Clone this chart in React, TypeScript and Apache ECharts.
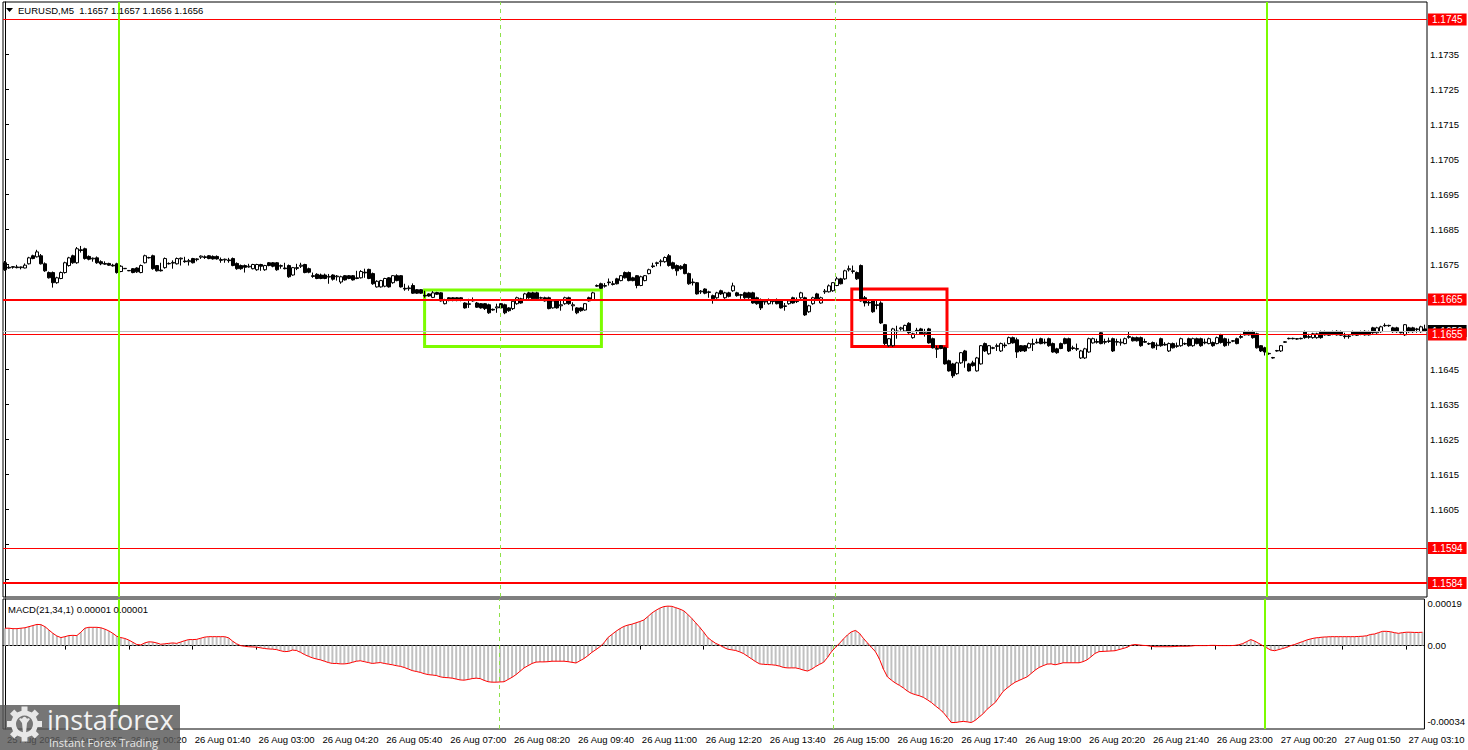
import { useEffect, useRef } from "react";
import * as echarts from "echarts";

const FONT = "'Liberation Sans', Arial, sans-serif";

// M5 candles, values are pips above 1.1600 (open / close / low / high)
const opens = [
  75.5, 74.2, 74.2, 74.3, 74.1, 74.0, 75.2, 77.5, 77.2, 77.5,
  75.2, 72.7, 72.7, 69.8, 71.0, 72.7, 74.7, 77.5, 75.5, 79.2,
  79.5, 77.3, 76.6, 76.9, 75.8, 75.3, 75.3, 74.8, 75.2, 73.0,
  73.8, 73.3, 73.8, 74.0, 72.7, 75.5, 77.0, 77.5, 74.7, 73.4,
  74.1, 75.3, 75.4, 75.2, 76.6, 76.0, 75.8, 76.7, 76.4, 77.1,
  77.2, 77.5, 77.3, 77.3, 76.4, 76.3, 76.3, 76.7, 75.3, 74.7,
  74.7, 74.3, 73.8, 73.5, 75.0, 73.5, 75.5, 75.5, 75.5, 74.5,
  74.0, 74.7, 72.0, 74.1, 74.5, 75.0, 73.8, 71.8, 72.2, 72.0,
  72.0, 71.4, 72.0, 71.5, 70.0, 71.8, 71.8, 71.8, 71.2, 71.2,
  72.8, 73.6, 72.4, 68.6, 68.6, 68.8, 71.2, 69.8, 71.8, 71.8,
  68.2, 68.1, 69.0, 67.8, 67.8, 66.2, 66.6, 65.6, 67.0, 66.9,
  63.8, 65.5, 65.5, 65.5, 65.5, 64.0, 63.6, 64.8, 64.0, 63.8,
  63.8, 63.5, 62.2, 62.6, 63.8, 63.5, 62.6, 62.4, 63.8, 65.2,
  65.0, 66.9, 66.9, 66.9, 65.5, 65.5, 65.5, 62.6, 64.6, 63.2,
  63.8, 65.5, 63.2, 62.6, 62.6, 62.0, 65.5, 65.0, 68.8, 69.5,
  68.8, 70.0, 69.5, 70.9, 70.4, 72.7, 72.7, 71.2, 71.8, 69.0,
  70.4, 72.4, 74.6, 75.3, 75.8, 75.8, 77.5, 75.5, 74.7, 74.5,
  75.0, 72.4, 70.0, 69.8, 67.2, 68.0, 67.0, 66.1, 65.5, 67.5,
  65.5, 66.9, 67.5, 66.9, 66.2, 66.9, 66.9, 66.9, 65.5, 65.0,
  64.3, 63.8, 64.4, 65.0, 64.6, 63.0, 63.8, 65.5, 64.4, 65.5,
  65.5, 61.5, 63.8, 66.6, 64.0, 67.2, 67.2, 67.5, 69.0, 70.9,
  70.9, 73.5, 73.0, 72.7, 74.7, 65.5, 64.2, 64.6, 63.5, 64.0,
  57.8, 51.8, 51.8, 56.0, 56.6, 56.0, 58.2, 54.1, 56.2, 56.6,
  55.2, 56.6, 53.8, 51.0, 51.8, 51.2, 47.5, 46.6, 43.8, 46.9,
  50.3, 46.6, 46.9, 44.6, 46.6, 52.4, 49.5, 51.2, 51.6, 50.3,
  52.0, 52.4, 54.1, 53.5, 51.8, 51.8, 51.2, 52.2, 52.8, 53.8,
  52.8, 53.8, 52.4, 50.9, 52.4, 53.8, 53.8, 51.2, 50.8, 48.3,
  48.3, 50.0, 52.6, 53.0, 55.5, 53.0, 53.0, 53.8, 52.8, 52.6,
  52.4, 54.4, 54.1, 54.1, 54.1, 53.0, 52.4, 52.7, 51.8, 53.8,
  52.2, 50.3, 52.4, 51.6, 51.8, 52.4, 53.8, 51.8, 53.8, 53.8,
  52.8, 52.4, 52.7, 52.4, 54.9, 53.8, 52.8, 53.2, 53.8, 54.4,
  55.8, 55.8, 55.8, 55.2, 51.8, 51.2, 49.6, 48.4, 50.4, 50.3,
  52.9, 53.9, 53.9, 53.8, 53.9, 55.8, 54.4, 54.1, 54.1, 55.8,
  55.8, 55.7, 55.8, 55.9, 55.8, 54.6, 54.4, 55.8, 55.7, 55.8,
  55.9, 55.8, 56.9, 55.5, 55.8, 57.6, 57.6, 56.9, 56.9, 55.6,
  54.9, 56.9, 56.9, 56.4, 55.8, 56.6,
];
const closes = [
  73.5, 74.0, 74.4, 74.1, 74.3, 74.8, 76.9, 76.7, 78.6, 75.2,
  73.2, 71.2, 69.8, 71.2, 72.7, 75.5, 76.9, 75.5, 79.5, 79.0,
  76.7, 76.5, 76.8, 75.5, 75.2, 75.1, 74.8, 74.6, 72.7, 74.5,
  73.9, 73.2, 72.7, 72.9, 74.7, 77.5, 76.9, 73.8, 73.2, 73.2,
  76.7, 75.2, 75.6, 76.7, 76.8, 75.8, 76.1, 75.5, 76.6, 77.4,
  77.0, 76.7, 76.6, 76.6, 76.2, 76.5, 76.1, 74.7, 73.8, 73.8,
  74.2, 74.5, 75.0, 75.0, 74.5, 74.7, 74.7, 74.5, 73.5, 74.7,
  73.8, 71.5, 74.1, 73.9, 74.8, 72.7, 72.8, 71.6, 71.0, 71.0,
  71.0, 71.6, 70.8, 71.7, 71.5, 70.6, 71.0, 70.6, 71.0, 73.0,
  72.6, 71.0, 69.5, 70.2, 70.4, 71.0, 68.6, 71.8, 70.4, 68.6,
  68.0, 68.3, 66.8, 66.8, 66.8, 66.0, 66.0, 66.9, 66.5, 64.6,
  65.0, 64.7, 64.7, 64.7, 64.8, 62.6, 63.8, 64.6, 62.8, 62.6,
  62.4, 61.2, 62.0, 62.9, 62.6, 61.2, 61.8, 64.5, 65.5, 64.0,
  66.6, 65.5, 65.2, 65.2, 65.4, 64.6, 62.4, 64.6, 62.6, 63.5,
  65.5, 63.8, 63.5, 61.2, 61.8, 63.8, 64.6, 66.9, 69.0, 68.2,
  69.0, 69.8, 69.3, 69.5, 71.8, 71.2, 70.4, 70.4, 69.0, 71.5,
  71.8, 73.5, 74.4, 75.5, 76.0, 77.0, 74.7, 73.9, 73.2, 73.8,
  72.4, 69.5, 69.8, 66.6, 67.4, 66.8, 67.2, 65.2, 66.9, 66.6,
  66.9, 65.9, 68.9, 66.1, 66.4, 65.5, 65.5, 64.0, 63.8, 62.6,
  64.5, 65.0, 64.6, 63.8, 62.6, 63.2, 64.6, 64.0, 64.6, 66.9,
  60.6, 63.2, 65.5, 65.2, 65.5, 67.4, 68.9, 69.8, 70.9, 69.5,
  73.2, 73.8, 73.2, 70.9, 64.6, 64.0, 64.0, 61.5, 63.3, 58.3,
  52.4, 53.8, 56.6, 55.8, 56.9, 57.6, 55.5, 55.2, 56.0, 55.2,
  55.5, 52.6, 51.2, 50.8, 51.0, 46.6, 44.6, 43.2, 46.9, 49.8,
  47.5, 44.6, 46.1, 48.3, 51.8, 50.3, 51.8, 51.1, 51.8, 52.4,
  51.8, 54.1, 52.6, 50.0, 50.3, 50.3, 52.4, 52.4, 52.6, 52.4,
  52.6, 51.8, 50.0, 49.8, 51.0, 52.4, 50.3, 51.0, 51.0, 50.3,
  50.9, 53.8, 53.8, 52.8, 52.4, 52.8, 53.2, 50.3, 53.0, 52.8,
  53.8, 54.2, 53.2, 53.2, 51.8, 52.8, 52.3, 51.2, 52.0, 51.8,
  52.0, 52.4, 51.2, 51.8, 53.8, 52.3, 51.8, 53.8, 52.4, 51.8,
  52.6, 53.8, 51.8, 54.1, 52.7, 51.8, 52.6, 53.1, 52.4, 54.2,
  54.9, 54.9, 54.1, 51.2, 50.3, 50.0, 49.5, 48.3, 50.3, 51.8,
  52.8, 53.8, 53.8, 53.7, 53.8, 54.1, 54.2, 55.2, 55.2, 54.1,
  54.9, 54.8, 55.0, 54.9, 54.8, 54.4, 54.6, 54.9, 54.8, 55.0,
  54.9, 54.9, 55.5, 56.9, 57.2, 57.5, 57.5, 55.8, 55.8, 55.5,
  57.8, 55.8, 55.8, 56.6, 57.2, 56.0,
];
const lows = [
  73.2, 73.8, 73.8, 73.9, 73.6, 73.9, 75.0, 76.5, 77.0, 75.0,
  72.9, 71.0, 68.4, 69.5, 70.8, 72.4, 74.4, 75.2, 75.2, 78.4,
  76.4, 76.2, 75.8, 75.2, 74.8, 74.9, 74.6, 74.4, 72.4, 72.8,
  73.7, 73.1, 72.5, 72.6, 72.5, 75.3, 76.7, 73.5, 73.0, 73.0,
  73.8, 75.0, 73.8, 75.0, 74.7, 75.5, 74.7, 75.3, 75.9, 76.6,
  76.6, 76.5, 76.4, 76.4, 75.5, 75.5, 75.5, 74.5, 73.5, 73.5,
  72.7, 74.1, 73.6, 73.2, 73.2, 73.2, 74.5, 74.2, 73.2, 73.8,
  73.6, 71.2, 71.8, 73.4, 74.0, 72.5, 72.5, 71.2, 70.8, 70.8,
  70.8, 69.5, 70.4, 70.4, 69.5, 70.4, 70.8, 70.4, 70.8, 71.0,
  71.2, 70.8, 69.2, 68.4, 68.4, 68.5, 68.4, 69.5, 70.2, 68.4,
  67.5, 67.5, 66.6, 66.6, 66.6, 65.5, 65.8, 65.4, 66.3, 64.4,
  63.6, 64.5, 64.5, 64.5, 64.5, 62.4, 62.6, 64.4, 62.6, 62.4,
  62.0, 60.9, 61.8, 61.2, 62.4, 60.8, 61.5, 62.0, 63.5, 63.8,
  64.8, 65.2, 65.0, 65.0, 65.2, 64.4, 62.2, 62.4, 62.4, 61.8,
  63.5, 63.5, 61.8, 60.8, 61.5, 61.8, 64.4, 64.8, 68.6, 68.0,
  68.4, 69.0, 69.0, 69.3, 70.2, 71.0, 70.2, 70.2, 68.2, 68.8,
  70.2, 72.2, 74.0, 74.5, 74.5, 75.5, 74.4, 73.6, 71.8, 73.5,
  72.2, 69.2, 69.0, 66.4, 66.6, 66.5, 65.5, 63.8, 65.2, 66.3,
  65.2, 65.6, 67.2, 65.8, 65.2, 65.2, 65.2, 63.8, 63.5, 62.0,
  63.5, 63.5, 63.6, 63.6, 62.4, 61.8, 63.5, 63.8, 64.0, 65.2,
  60.3, 61.2, 63.5, 65.0, 63.8, 66.6, 67.0, 67.2, 68.8, 69.3,
  70.6, 73.0, 72.4, 70.6, 64.4, 63.0, 63.2, 61.2, 62.2, 58.0,
  52.0, 51.5, 51.5, 53.8, 56.1, 55.8, 55.2, 53.8, 55.2, 55.0,
  54.4, 52.4, 51.0, 48.3, 50.8, 46.4, 44.4, 42.6, 43.5, 46.6,
  45.5, 44.4, 45.8, 44.4, 46.4, 50.0, 49.2, 50.8, 50.3, 50.0,
  51.2, 52.2, 52.4, 48.3, 50.0, 50.0, 51.0, 50.3, 52.4, 52.2,
  52.2, 51.5, 49.8, 49.5, 50.8, 52.2, 50.0, 50.6, 50.3, 48.0,
  48.0, 49.8, 52.4, 52.4, 52.2, 52.2, 52.6, 50.0, 51.8, 51.8,
  52.2, 53.8, 53.0, 53.0, 51.5, 52.6, 52.0, 51.0, 50.6, 51.5,
  51.8, 50.0, 51.0, 51.2, 51.5, 52.0, 51.5, 51.5, 52.2, 51.5,
  52.2, 52.2, 51.5, 52.2, 52.4, 51.5, 51.8, 52.8, 52.2, 53.8,
  54.7, 54.7, 53.8, 51.0, 50.0, 49.0, 49.2, 48.1, 50.1, 50.0,
  52.6, 53.6, 53.6, 53.5, 53.6, 53.8, 53.8, 53.8, 53.8, 53.8,
  54.7, 54.6, 54.8, 54.7, 54.6, 53.8, 53.8, 54.7, 54.6, 54.8,
  54.7, 54.7, 55.2, 55.2, 55.5, 57.2, 57.2, 55.5, 55.5, 55.3,
  54.6, 55.5, 55.5, 55.5, 55.5, 55.9,
];
const highs = [
  76.0, 74.8, 74.5, 74.9, 74.4, 75.3, 77.2, 77.8, 79.2, 78.0,
  75.6, 73.0, 73.0, 71.5, 73.0, 75.8, 77.2, 77.8, 80.0, 80.3,
  79.8, 77.6, 77.0, 77.3, 76.2, 75.9, 75.5, 75.2, 75.5, 74.8,
  74.0, 73.4, 74.0, 74.2, 75.0, 77.8, 77.2, 77.8, 74.8, 75.5,
  77.0, 75.6, 76.2, 77.0, 77.0, 77.2, 76.6, 76.9, 76.8, 77.6,
  77.6, 77.7, 77.6, 77.6, 77.0, 76.7, 76.9, 77.0, 75.6, 75.0,
  75.0, 75.2, 75.2, 75.2, 75.2, 74.9, 75.7, 75.7, 75.7, 75.0,
  75.5, 75.0, 74.3, 75.2, 75.5, 75.2, 74.1, 72.7, 72.5, 72.4,
  72.4, 72.3, 72.2, 72.0, 71.8, 72.0, 72.0, 72.0, 73.2, 73.4,
  73.8, 73.8, 72.7, 70.5, 70.6, 71.2, 71.4, 72.0, 72.2, 72.0,
  69.5, 69.0, 69.6, 68.0, 68.0, 67.5, 66.8, 67.4, 67.2, 67.1,
  65.2, 65.7, 65.7, 65.7, 65.7, 64.2, 65.2, 65.6, 64.3, 64.0,
  64.0, 63.8, 62.4, 63.8, 64.0, 63.8, 62.8, 64.8, 65.8, 65.5,
  66.9, 67.2, 67.2, 67.2, 65.8, 65.8, 65.8, 64.9, 64.9, 64.6,
  65.8, 65.8, 64.2, 62.8, 62.8, 64.0, 65.8, 67.2, 69.3, 69.8,
  69.7, 71.0, 70.3, 71.2, 72.0, 73.0, 73.0, 71.5, 72.0, 71.8,
  72.0, 73.8, 75.5, 75.8, 76.5, 77.3, 78.0, 75.8, 75.0, 74.8,
  75.3, 72.7, 71.0, 70.0, 67.7, 68.2, 67.5, 66.4, 67.2, 67.8,
  67.2, 67.2, 69.8, 67.2, 66.6, 67.2, 67.2, 67.2, 65.8, 65.3,
  65.0, 65.3, 65.0, 65.3, 64.9, 64.0, 64.9, 65.8, 65.6, 67.2,
  65.8, 63.5, 65.8, 66.9, 65.8, 68.0, 69.3, 70.0, 71.5, 71.2,
  73.5, 74.7, 74.7, 73.0, 75.0, 66.0, 64.8, 64.8, 65.0, 64.5,
  58.0, 54.0, 56.9, 57.5, 57.2, 57.8, 58.5, 55.5, 56.9, 56.9,
  56.6, 56.9, 54.1, 51.8, 52.0, 51.5, 47.8, 46.9, 47.2, 50.0,
  50.6, 46.9, 47.5, 48.6, 52.0, 52.7, 52.0, 51.5, 52.4, 52.7,
  52.7, 54.4, 54.4, 54.1, 52.0, 52.0, 52.7, 53.8, 53.8, 54.1,
  53.8, 54.1, 52.7, 51.2, 52.7, 54.1, 54.1, 51.8, 52.4, 50.6,
  51.2, 54.1, 54.1, 53.8, 55.8, 53.8, 54.1, 54.1, 53.8, 53.8,
  54.1, 55.8, 54.4, 54.4, 54.4, 53.8, 52.7, 53.0, 52.7, 54.1,
  52.8, 52.7, 52.7, 52.7, 54.1, 52.7, 54.1, 54.1, 54.1, 54.1,
  53.8, 54.1, 53.0, 54.4, 55.2, 54.1, 53.8, 53.4, 54.1, 55.2,
  56.1, 56.1, 56.1, 55.5, 52.0, 51.5, 49.8, 48.6, 50.6, 52.0,
  53.1, 54.1, 54.1, 54.0, 54.1, 56.1, 55.2, 55.5, 55.5, 56.1,
  56.1, 56.0, 56.1, 56.2, 56.1, 55.5, 55.0, 56.1, 56.0, 56.1,
  56.2, 56.1, 57.2, 57.2, 57.5, 58.2, 57.8, 57.2, 57.2, 55.8,
  58.0, 57.2, 57.2, 56.9, 57.5, 57.8,
];

// MACD(21,34,1) main value, units of 0.00001
const macd = [
  7.8, 7.8, 7.6, 7.6, 7.8, 8.0, 8.5, 9.0, 9.5, 9.4,
  8.5, 7.0, 5.5, 4.3, 3.6, 4.0, 4.5, 4.6, 4.5, 6.0,
  7.8, 8.2, 8.2, 8.2, 8.0, 7.4, 6.6, 5.5, 4.2, 3.6,
  3.2, 2.5, 1.5, 0.5, 0.3, 1.2, 1.7, 1.6, 1.2, 0.6,
  0.8, 1.0, 1.2, 1.0, 1.6, 2.2, 2.7, 2.7, 2.8, 3.3,
  3.8, 4.0, 4.0, 4.0, 4.0, 4.0, 3.5, 2.0, 0.8, 0.0,
  -0.3, -0.5, -0.6, -0.7, -1.0, -1.3, -1.5, -1.6, -1.8, -2.3,
  -2.7, -2.6, -2.0, -2.2, -3.0, -4.0, -4.8, -5.5, -6.0, -6.4,
  -7.0, -7.6, -8.0, -8.0, -8.2, -8.2, -8.0, -7.5, -7.0, -6.8,
  -7.2, -7.6, -8.0, -7.8, -7.6, -8.0, -8.3, -8.6, -9.0, -9.3,
  -9.8, -10.5, -11.2, -11.6, -12.0, -12.6, -13.0, -13.2, -13.4, -14.0,
  -14.3, -14.4, -14.6, -15.0, -15.4, -15.5, -15.2, -14.8, -14.6, -14.8,
  -15.6, -16.2, -16.4, -16.4, -16.3, -16.2, -15.2, -14.2, -13.0, -11.5,
  -10.0, -9.0, -8.0, -7.4, -7.3, -7.3, -7.2, -7.0, -7.0, -7.0,
  -7.0, -7.2, -7.5, -7.8, -6.8, -5.8, -4.5, -3.0, -1.8, -0.5,
  1.2, 3.6, 5.0, 6.4, 7.6, 8.6, 9.2, 9.6, 10.2, 10.8,
  11.5, 13.0, 14.6, 15.8, 16.8, 17.5, 17.7, 17.6, 17.0, 16.4,
  15.6, 14.0, 12.2, 10.2, 8.2, 6.0, 3.6, 2.2, 1.0, 0.2,
  -0.8, -1.6, -1.9, -2.2, -2.8, -3.6, -4.8, -6.0, -7.2, -8.2,
  -8.4, -8.5, -8.6, -8.8, -9.2, -9.8, -10.0, -10.0, -10.0, -10.4,
  -11.0, -11.4, -10.6, -9.4, -8.4, -7.5, -5.3, -2.7, -0.8, 1.0,
  3.0, 4.8, 6.2, 6.8, 5.5, 3.2, 1.2, -0.8, -2.7, -6.0,
  -10.5, -14.0, -15.5, -16.8, -17.8, -19.0, -20.4, -21.4, -22.0, -22.5,
  -23.2, -24.3, -25.5, -27.0, -28.4, -30.0, -32.2, -34.5, -34.5, -34.2,
  -34.0, -34.2, -34.5, -33.5, -32.0, -30.5, -28.5, -27.0, -25.5, -23.0,
  -20.5, -19.0, -17.6, -16.4, -15.6, -14.8, -14.0, -12.5, -11.0, -9.8,
  -9.0, -8.3, -8.2, -8.6, -8.2, -7.7, -7.7, -7.7, -7.7, -7.7,
  -7.2, -6.4, -5.0, -3.5, -2.7, -2.6, -2.5, -2.4, -2.3, -1.8,
  -1.3, -0.8, 0.2, 0.5, 0.3, 0.1, 0.0, -0.3, -0.5, -0.5,
  -0.5, -0.5, -0.5, -0.4, -0.3, -0.3, -0.3, -0.2, 0.0, 0.0,
  0.0, 0.0, 0.1, 0.1, 0.0, 0.0, 0.0, 0.0, 0.1, 0.4,
  0.9, 1.8, 2.7, 2.0, 1.0, 0.0, -1.0, -2.0, -2.3, -1.8,
  -1.3, -0.8, 0.0, 0.5, 1.2, 1.8, 2.5, 3.0, 3.4, 3.6,
  3.8, 3.9, 4.0, 4.0, 4.0, 4.0, 4.0, 4.0, 4.0, 4.1,
  4.2, 4.4, 5.0, 5.2, 5.8, 6.4, 6.4, 6.2, 5.8, 5.5,
  5.8, 6.0, 6.0, 5.9, 5.9, 6.0,
];

// time axis labels (bar index where each label sits)
const tickIdx = [0, 15, 31, 47, 63, 79, 95, 111, 127, 143, 159, 175, 191, 207, 223, 239, 255, 271, 287, 303, 319, 335, 351];
const tickText = [
  "25 Aug 2026", "25 Aug 22:55", "26 Aug 00:20", "26 Aug 01:40", "26 Aug 03:00", "26 Aug 04:20",
  "26 Aug 05:40", "26 Aug 07:00", "26 Aug 08:20", "26 Aug 09:40", "26 Aug 11:00", "26 Aug 12:20",
  "26 Aug 13:40", "26 Aug 15:00", "26 Aug 16:20", "26 Aug 17:40", "26 Aug 19:00", "26 Aug 20:20",
  "26 Aug 21:40", "26 Aug 23:00", "27 Aug 00:20", "27 Aug 01:50", "27 Aug 03:10",
];
// price scale: tick marks every 10 pips; labels only where MT4 leaves them uncovered
const priceTicks = [1.1585, 1.1595, 1.1605, 1.1615, 1.1625, 1.1635, 1.1645, 1.1655, 1.1665, 1.1675, 1.1685, 1.1695, 1.1705, 1.1715, 1.1725, 1.1735, 1.1745];
const priceLabels = [1.1585, 1.1595, 1.1605, 1.1615, 1.1625, 1.1635, 1.1645, 1.1675, 1.1685, 1.1695, 1.1705, 1.1715, 1.1725, 1.1735];
const macdTicks = [-0.00034, 0, 0.00019];

// horizontal levels
const levels = [1.1745, 1.1665, 1.1655, 1.1594, 1.1584];
const levelBold = [false, true, false, false, true];
const bid = 1.1656;

// vertical lines, in bar-index units
const dayLines = [28.5, 315.5];
const sessionLines = [123.75, 207.5];

// boxes: [bar from, bar to, price top, price bottom]
const greenBox = [104.9, 149.1, 1.16677, 1.16516];
const redBox = [211.7, 235.5, 1.1668, 1.16516];

const GREEN = "#7cfc00";

function buildOption() {
  const n = closes.length;
  const cats = closes.map((_, i) => String(i));
  const px = (p: number) => +(1.16 + p / 10000).toFixed(5);
  const candles = closes.map((c, i) => [px(opens[i]), px(c), px(lows[i]), px(highs[i])]);
  const macdVals = macd.map((v) => +(v * 1e-5).toFixed(7));
  const labelAt = new Map(tickIdx.map((k, j) => [k, tickText[j]]));

  const boxLabel = (p: number, bg: string) => ({
    show: true,
    position: "end",
    distance: 1,
    formatter: p.toFixed(4),
    backgroundColor: bg,
    color: "#fff",
    fontFamily: FONT,
    fontSize: 10,
    lineHeight: 11,
    padding: [1, 4, 0, 4],
  });

  const vLines = () => [
    ...dayLines.map((v) => ({ xAxis: v, lineStyle: { color: GREEN, width: 2, type: "solid" }, label: { show: false } })),
    ...sessionLines.map((v) => ({
      xAxis: v,
      lineStyle: { color: "#8ee04a", width: 1, type: [4, 4] },
      label: { show: false },
    })),
  ];

  const box = (b: number[], color: string) => [
    { xAxis: b[0], yAxis: b[2], itemStyle: { color: "rgba(0,0,0,0)", borderColor: color, borderWidth: 3 } },
    { xAxis: b[1], yAxis: b[3] },
  ];

  const axisText = { color: "#000", fontFamily: FONT, fontSize: 9.5 };

  const teeth = [0, 1, 2, 3, 4, 5, 6, 7].map((k) => ({
    type: "rect",
    x: 24.5,
    y: 724,
    rotation: (k * Math.PI) / 4,
    shape: { x: -3, y: -17.5, width: 6, height: 6 },
    style: { fill: "#e8e8e8" },
    z: 101,
  }));

  return {
    animation: false,
    backgroundColor: "#fff",
    textStyle: { fontFamily: FONT },
    grid: [
      { left: 3, top: 2, width: 1424, height: 595, show: true, borderColor: "#000", borderWidth: 1 },
      { left: 3, top: 599, width: 1424, height: 130, show: true, borderColor: "#000", borderWidth: 1 },
    ],
    xAxis: [
      { type: "category", gridIndex: 0, data: cats, axisLine: { show: false }, axisTick: { show: false }, axisLabel: { show: false }, splitLine: { show: false } },
      {
        type: "category",
        gridIndex: 1,
        data: cats,
        axisLine: { show: true, lineStyle: { color: "#000" } },
        axisTick: { show: true, alignWithLabel: true, length: 4, interval: (i: number) => labelAt.has(i), lineStyle: { color: "#000" } },
        axisLabel: {
          ...axisText,
          interval: (i: number) => labelAt.has(i),
          formatter: (_v: string, i: number) => labelAt.get(i) ?? "",
          align: "left",
          margin: 5,
          padding: [0, 0, 0, 2],
        },
        splitLine: { show: false },
      },
      { type: "value", gridIndex: 0, min: -0.5, max: n - 0.5, show: false },
      { type: "value", gridIndex: 1, min: -0.5, max: n - 0.5, show: false },
    ],
    yAxis: [
      {
        type: "value",
        gridIndex: 0,
        position: "right",
        min: 1.158,
        max: 1.175,
        splitLine: { show: false },
        axisLine: { show: true, lineStyle: { color: "#000" } },
        axisTick: { show: true, length: 4, customValues: priceTicks, lineStyle: { color: "#000" } },
        axisLabel: { ...axisText, customValues: priceLabels, margin: 3, formatter: (v: number) => v.toFixed(4) },
      },
      {
        type: "value",
        gridIndex: 1,
        position: "right",
        min: -0.000374,
        max: 0.000209,
        splitLine: { show: false },
        axisLine: { show: true, lineStyle: { color: "#000" } },
        axisTick: { show: false },
        axisLabel: { ...axisText, customValues: macdTicks, margin: 3, formatter: (v: number) => (v === 0 ? "0.00" : v.toFixed(5)) },
      },
    ],
    series: [
      {
        type: "candlestick",
        xAxisIndex: 0,
        yAxisIndex: 0,
        data: candles,
        barWidth: 3,
        silent: true,
        itemStyle: { color: "#fff", color0: "#000", borderColor: "#000", borderColor0: "#000", borderWidth: 1 },
      },
      {
        type: "line",
        xAxisIndex: 2,
        yAxisIndex: 0,
        data: [[0, bid]],
        symbol: "none",
        lineStyle: { opacity: 0 },
        silent: true,
        markLine: {
          symbol: ["none", "none"],
          silent: true,
          precision: 5,
          data: [
            { yAxis: bid, lineStyle: { color: "#c0c0c0", width: 1, type: "solid" }, label: boxLabel(bid, "#000") },
            ...levels.map((p, k) => ({
              yAxis: p,
              lineStyle: { color: "#ff0000", width: levelBold[k] ? 2 : 1, type: "solid" },
              label: boxLabel(p, "#ff0000"),
            })),
            ...vLines(),
          ],
        },
        markArea: { silent: true, data: [box(greenBox, GREEN), box(redBox, "#ff0000")] },
      },
      {
        type: "bar",
        xAxisIndex: 1,
        yAxisIndex: 1,
        data: macdVals,
        barWidth: 2,
        silent: true,
        itemStyle: { color: "#c0c0c0" },
      },
      {
        type: "line",
        xAxisIndex: 1,
        yAxisIndex: 1,
        data: macdVals,
        symbol: "none",
        silent: true,
        lineStyle: { color: "#ff0000", width: 1 },
      },
      {
        type: "line",
        xAxisIndex: 3,
        yAxisIndex: 1,
        data: [[0, 0]],
        symbol: "none",
        lineStyle: { opacity: 0 },
        silent: true,
        markLine: { symbol: ["none", "none"], silent: true, precision: 5, data: vLines() },
      },
    ],
    graphic: [
      { type: "polygon", shape: { points: [[6, 8], [13, 8], [9.5, 12]] }, style: { fill: "#000" }, z: 100 },
      {
        type: "text",
        x: 18,
        y: 10,
        style: { text: "EURUSD,M5  1.1657 1.1657 1.1656 1.1656", fill: "#000", font: `9.5px ${FONT}`, verticalAlign: "middle" },
        z: 100,
      },
      {
        type: "text",
        x: 8,
        y: 609,
        style: { text: "MACD(21,34,1) 0.00001 0.00001", fill: "#000", font: `9.5px ${FONT}`, verticalAlign: "middle" },
        z: 100,
      },
      // watermark
      { type: "rect", shape: { x: 0, y: 705, width: 180, height: 45 }, style: { fill: "rgba(88,88,88,0.82)" }, z: 100 },
      { type: "ring", shape: { cx: 24.5, cy: 724, r: 13.5, r0: 8.5 }, style: { fill: "#e8e8e8" }, z: 101 },
      ...teeth,
      { type: "circle", shape: { cx: 24.5, cy: 719.5, r: 2.6 }, style: { fill: "#e8e8e8" }, z: 101 },
      { type: "polygon", shape: { points: [[19, 719], [22, 723], [23, 733], [26, 733], [27, 723], [30, 719], [28, 718], [24.5, 722], [21, 718]] }, style: { fill: "#e8e8e8" }, z: 101 },
      {
        type: "text",
        x: 47,
        y: 719,
        style: { text: "instaforex", fill: "#f2f2f2", font: "27px 'Open Sans', sans-serif", verticalAlign: "middle" },
        z: 101,
      },
      {
        type: "text",
        x: 49,
        y: 742,
        style: { text: "Instant Forex Trading", fill: "#e6e6e6", font: "11px 'Open Sans', sans-serif", verticalAlign: "middle" },
        z: 101,
      },
    ],
  };
}

export default function App() {
  const ref = useRef<HTMLDivElement>(null);

  useEffect(() => {
    const el = ref.current;
    if (!el) return;
    const chart = echarts.init(el, undefined, { renderer: "svg" });
    chart.setOption(buildOption() as any);
    return () => chart.dispose();
  }, []);

  return (
    <div
      ref={ref}
      style={{ position: "absolute", left: 0, top: 0, width: 1468, height: 750, background: "#fff" }}
    />
  );
}
